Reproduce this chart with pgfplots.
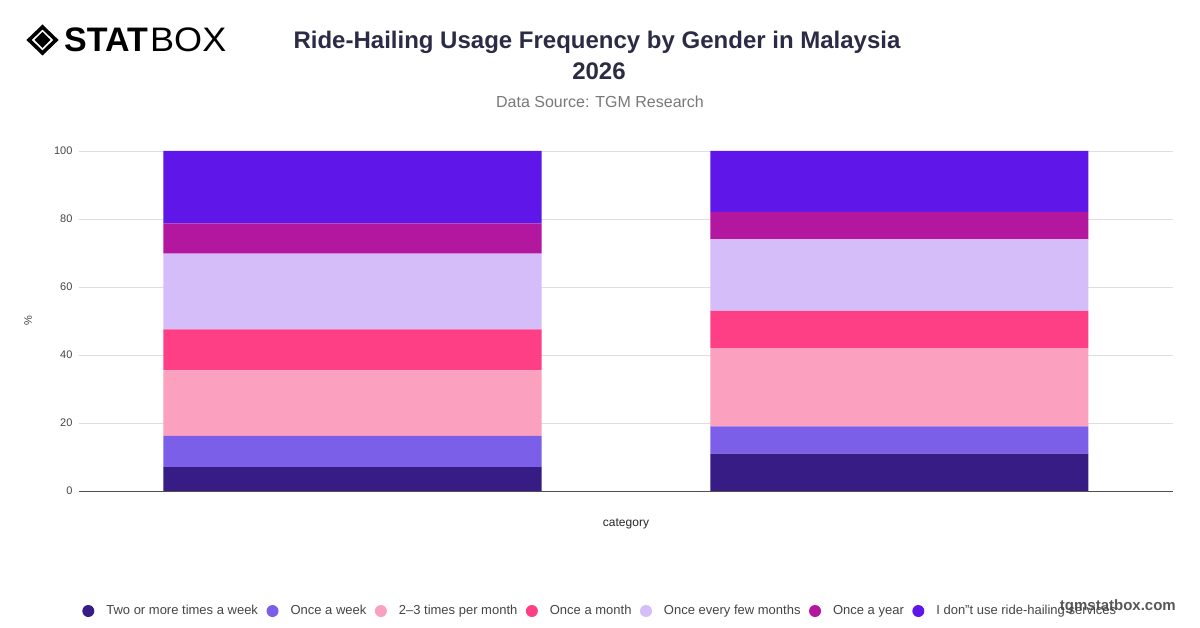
\documentclass[border=0pt]{standalone}
\usepackage{pgfplots}
\pgfplotsset{compat=1.18}
\usepackage{fontspec}
\setmainfont{Liberation Sans}
\definecolor{cA}{RGB}{55,28,133}
\definecolor{cB}{RGB}{123,95,232}
\definecolor{cC}{RGB}{252,160,192}
\definecolor{cD}{RGB}{255,63,133}
\definecolor{cE}{RGB}{213,189,250}
\definecolor{cF}{RGB}{179,23,159}
\definecolor{cG}{RGB}{94,23,232}
\definecolor{titlec}{RGB}{43,43,70}
\definecolor{subc}{RGB}{120,120,120}
\definecolor{txtc}{RGB}{68,68,68}
\definecolor{gridc}{RGB}{222,222,222}
\definecolor{axc}{RGB}{80,80,80}
\begin{document}
\begin{tikzpicture}
\path[use as bounding box] (0,0) rectangle (1200bp,628bp);
% logo
\draw[line width=3.6bp, line join=miter] (42.5bp,601bp) -- (56bp,588bp) -- (42.5bp,575bp) -- (29bp,588bp) -- cycle;
\fill (42.5bp,596bp) -- (50.5bp,588bp) -- (42.5bp,580bp) -- (34.5bp,588bp) -- cycle;
\node[anchor=west, inner sep=0pt] at (64bp,588bp) {\fontsize{34bp}{34bp}\selectfont\bfseries STAT};
\node[anchor=west, inner sep=0pt] at (150bp,588bp) {\fontsize{34bp}{34bp}\selectfont\scalebox{1.06}[1]{BOX}};
% titles
\node[anchor=center, inner sep=0pt, text=titlec, font=\fontsize{24bp}{28bp}\selectfont\bfseries] at (597bp,586bp) {Ride-Hailing Usage Frequency by Gender in Malaysia};
\node[anchor=center, inner sep=0pt, text=titlec, font=\fontsize{24bp}{28bp}\selectfont\bfseries] at (599bp,557bp) {2026};
\node[anchor=center, inner sep=0pt, text=subc, font=\fontsize{16bp}{18bp}\selectfont] at (600bp,526bp) {Data Source: TGM Research};
\node[anchor=east, inner sep=0pt, text=txtc!90, font=\fontsize{15bp}{17bp}\selectfont\bfseries] at (1176bp,21bp) {tgmstatbox.com};
\begin{axis}[
  at={(79bp,137bp)}, anchor=south west,
  scale only axis, width=1094bp, height=340bp,
  xmin=-0.5, xmax=1.5, ymin=0, ymax=100,
  ybar stacked, bar width=378bp,
  xtick=\empty, ytick={0,20,...,100},
  axis x line*=bottom, axis y line*=left,
  x axis line style={draw=axc, line width=0.9pt, -},
  y axis line style={draw=none},
  major tick length=0pt,
  ymajorgrids, grid style={draw=gridc, line width=0.6pt},
  /pgf/number format/assume math mode=true,
  yticklabel style={font=\fontsize{11bp}{13bp}\selectfont, text=txtc, xshift=-3bp},
  xlabel={category}, ylabel={\%},
  xlabel style={font=\fontsize{12bp}{14bp}\selectfont, text=black!85, at={(axis description cs:0.5,0)}, anchor=center, yshift=-33bp},
  ylabel style={font=\fontsize{11bp}{13bp}\selectfont, text=txtc, at={(axis description cs:0,0.5)}, anchor=center, yshift=51bp},
  legend columns=7,
  legend style={at={(axis description cs:0.4765,-0.353)}, anchor=center, draw=none, fill=none,
    font=\fontsize{13bp}{15bp}\selectfont, text=txtc, inner sep=0pt,
    /tikz/every odd column/.append style={column sep=10bp},
    /tikz/every even column/.append style={column sep=6.5bp}},
  legend cell align=left,
  legend image code/.code={\fill[#1] (0bp,0bp) circle (6bp);},
]
\addplot[fill=cA, draw=none] coordinates {(0,7.0) (1,11.0)};
\addplot[fill=cB, draw=none] coordinates {(0,9.2) (1,8.0)};
\addplot[fill=cC, draw=none] coordinates {(0,19.3) (1,23.0)};
\addplot[fill=cD, draw=none] coordinates {(0,12.0) (1,11.0)};
\addplot[fill=cE, draw=none] coordinates {(0,22.3) (1,21.0)};
\addplot[fill=cF, draw=none] coordinates {(0,8.9) (1,8.1)};
\addplot[fill=cG, draw=none] coordinates {(0,21.3) (1,17.9)};
\legend{Two or more times a week, Once a week, 2–3 times per month, Once a month, Once every few months, Once a year, I don"t use ride-hailing services}
\end{axis}
\end{tikzpicture}
\end{document}
